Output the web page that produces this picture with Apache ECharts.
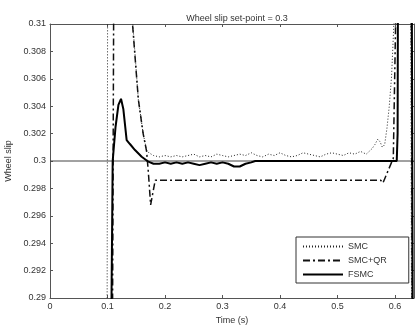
<!DOCTYPE html>
<html>
<head>
<meta charset="utf-8">
<script src="https://cdn.jsdelivr.net/npm/echarts@6/dist/echarts.min.js"></script>
<style>html,body{margin:0;padding:0;background:#fff}#c{width:415px;height:325px}</style>
</head>
<body>
<div id="c"></div>
<script>
// ---- data ----
var titleText = 'Wheel slip set-point = 0.3';
var xName = 'Time (s)';
var yName = 'Wheel slip';
var setPoint = 0.3;
var seriesNames = ['SMC', 'SMC+QR', 'FSMC'];

var smcTime = [0, 0.099, 0.1005, 0.106, 0.125, 0.140, 0.144, 0.1536, 0.162, 0.168, 0.172,
  0.18, 0.19, 0.20, 0.21, 0.22, 0.23, 0.24, 0.25, 0.26, 0.27, 0.28, 0.29, 0.30, 0.31, 0.32,
  0.33, 0.34, 0.35, 0.36, 0.37, 0.38, 0.39, 0.40, 0.41, 0.42, 0.43, 0.44, 0.45, 0.46, 0.47,
  0.48, 0.49, 0.50, 0.51, 0.52, 0.53, 0.54, 0.55, 0.56, 0.565, 0.570, 0.574, 0.578, 0.582,
  0.586, 0.590, 0.594, 0.598, 0.602, 0.626, 0.630];
var smcValues = [0.27, 0.28, 0.32, 0.335, 0.34, 0.33, 0.31, 0.3045, 0.302, 0.3008, 0.3006,
  0.3004, 0.3003, 0.3004, 0.3003, 0.3004, 0.3003, 0.3004, 0.3005, 0.3003, 0.3004, 0.3003, 0.3005, 0.3004, 0.3003, 0.3004,
  0.3005, 0.3004, 0.3006, 0.3004, 0.3003, 0.3005, 0.3004, 0.3006, 0.3004, 0.3003, 0.3004, 0.3006, 0.3005, 0.3004, 0.3003,
  0.3005, 0.3006, 0.3005, 0.3004, 0.3006, 0.3005, 0.3007, 0.3005, 0.3009, 0.3012, 0.3016, 0.3014, 0.3010, 0.3012,
  0.3024, 0.3040, 0.3062, 0.3100, 0.33, 0.33, 0.27];

var qrTime = [0, 0.108, 0.1115, 0.118, 0.135, 0.1435, 0.1536, 0.162, 0.168, 0.171, 0.175,
  0.179, 0.183, 0.25, 0.35, 0.45, 0.55, 0.575, 0.579, 0.583, 0.590, 0.597, 0.601, 0.604, 0.627, 0.6315];
var qrValues = [0.27, 0.28, 0.32, 0.34, 0.34, 0.31, 0.3045, 0.302, 0.3007, 0.2992, 0.2968,
  0.2977, 0.2986, 0.2986, 0.2986, 0.2986, 0.2986, 0.2986, 0.2984, 0.2988, 0.2995, 0.3002, 0.31, 0.33, 0.33, 0.27];

var fsmcTime = [0, 0.104, 0.107, 0.109, 0.114, 0.119, 0.1235, 0.1275, 0.1333, 0.139, 0.1478, 0.1594,
  0.171, 0.18, 0.19, 0.20, 0.21, 0.22, 0.23, 0.24, 0.25, 0.26, 0.27, 0.28, 0.29, 0.30, 0.31,
  0.32, 0.33, 0.34, 0.35, 0.357, 0.45, 0.55, 0.603, 0.6045, 0.606, 0.628, 0.632];
var fsmcValues = [0.27, 0.28, 0.29, 0.300, 0.3025, 0.3041, 0.30454, 0.3038, 0.30153, 0.30124, 0.3008, 0.30031,
  0.29995, 0.2998, 0.2998, 0.2999, 0.2998, 0.2999, 0.2998, 0.2999, 0.2998, 0.2997, 0.2998, 0.2999, 0.2998, 0.2999, 0.2998,
  0.2996, 0.2996, 0.2998, 0.2999, 0.3, 0.3, 0.3, 0.3, 0.302, 0.33, 0.33, 0.27];

var xMin = 0, xMax = 0.633, xInterval = 0.1;
var yMin = 0.29, yMax = 0.31, yInterval = 0.002;

function pairs(t, v) { return t.map(function (x, i) { return [x, v[i]]; }); }

var chart = echarts.init(document.getElementById('c'), null, { renderer: 'canvas' });
var font = 'Liberation Sans, Arial, sans-serif';
var axisCol = '#555';
var txtCol = '#333';

function axisCommon(show) {
  return {
    axisLine: { show: true, onZero: false, lineStyle: { color: axisCol, width: 1 } },
    axisTick: { show: true, inside: true, length: 3, lineStyle: { color: axisCol } },
    splitLine: { show: false },
    axisLabel: { show: show, color: txtCol, fontSize: 9, fontFamily: font, margin: 4 }
  };
}

var option = {
  animation: false,
  backgroundColor: '#fff',
  title: {
    text: titleText, left: 232, top: 9, textAlign: 'center',
    textStyle: { fontSize: 9, fontWeight: 'normal', color: txtCol, fontFamily: font }
  },
  grid: { left: 50, right: 1, top: 24, bottom: 27, containLabel: false, outerBoundsMode: 'none' },
  legend: {
    data: seriesNames,
    orient: 'vertical', left: 296, top: 237,
    itemWidth: 40, itemHeight: 8, itemGap: 5,
    padding: [5, 22, 4, 6],
    backgroundColor: '#fff', borderColor: '#333', borderWidth: 1,
    itemStyle: { opacity: 0 },
    textStyle: { fontSize: 9, color: txtCol, fontFamily: font }
  },
  xAxis: [
    Object.assign({
      type: 'value', min: xMin, max: xMax, interval: xInterval, position: 'bottom',
      name: xName, nameLocation: 'middle', nameGap: 17,
      nameTextStyle: { fontSize: 9, color: txtCol, fontFamily: font }
    }, axisCommon(true), {
      axisLabel: { show: true, color: txtCol, fontSize: 9, fontFamily: font, margin: 4, showMaxLabel: false }
    }),
    Object.assign({ type: 'value', min: xMin, max: xMax, interval: xInterval, position: 'top' }, axisCommon(false))
  ],
  yAxis: [
    Object.assign({
      type: 'value', min: yMin, max: yMax, interval: yInterval, position: 'left',
      name: yName, nameLocation: 'middle', nameGap: 29, nameRotate: 90,
      nameTextStyle: { fontSize: 9, color: txtCol, fontFamily: font }
    }, axisCommon(true)),
    Object.assign({ type: 'value', min: yMin, max: yMax, interval: yInterval, position: 'right' }, axisCommon(false))
  ],
  series: [
    {
      name: 'setpoint', type: 'line', symbol: 'none', silent: true, z: 1,
      data: pairs([xMin, xMax], [setPoint, setPoint]),
      lineStyle: { color: '#444', width: 1 }
    },
    {
      name: seriesNames[0], type: 'line', symbol: 'none', clip: true, z: 2,
      data: pairs(smcTime, smcValues),
      lineStyle: { color: '#222', width: 1, type: [1, 2] },
      itemStyle: { color: '#222' }
    },
    {
      name: seriesNames[1], type: 'line', symbol: 'none', clip: true, z: 3,
      data: pairs(qrTime, qrValues),
      lineStyle: { color: '#111', width: 1.5, type: [7, 3, 2, 3] },
      itemStyle: { color: '#111' }
    },
    {
      name: seriesNames[2], type: 'line', symbol: 'none', clip: true, z: 4,
      data: pairs(fsmcTime, fsmcValues),
      lineStyle: { color: '#000', width: 2 },
      itemStyle: { color: '#000' }
    }
  ]
};
chart.setOption(option);
</script>
</body>
</html>
